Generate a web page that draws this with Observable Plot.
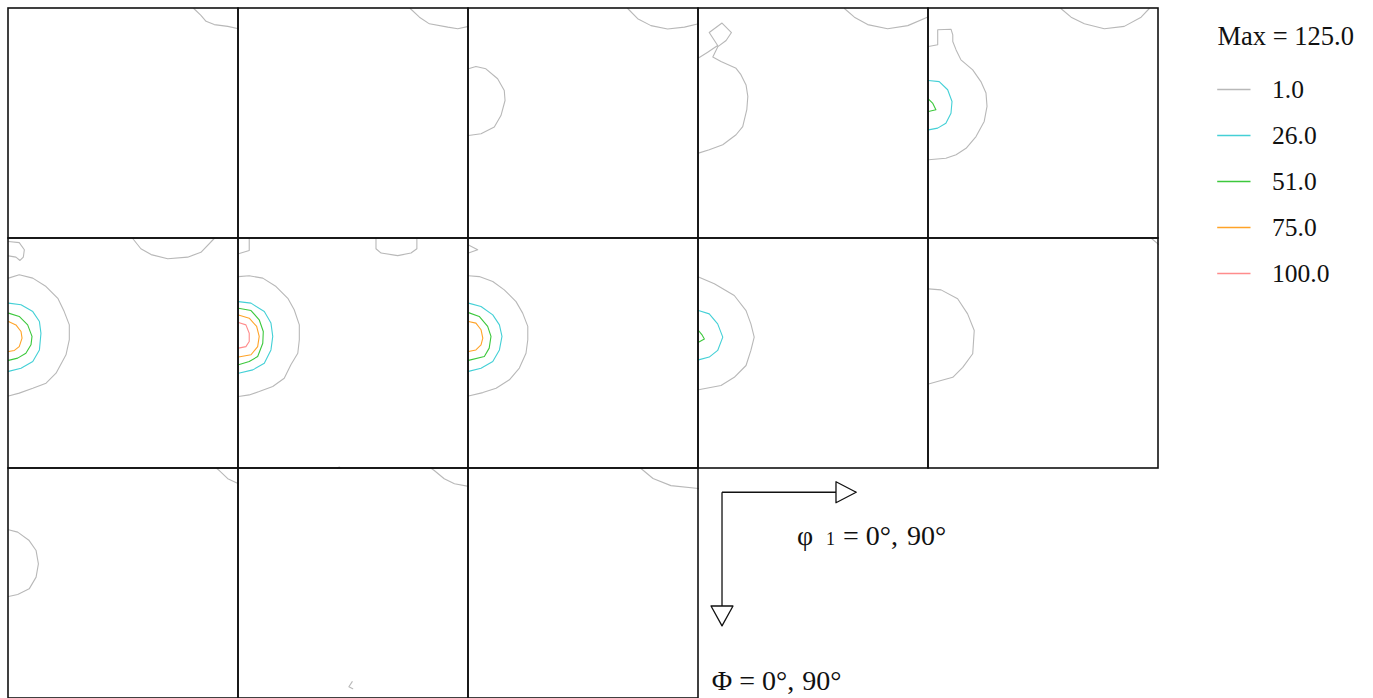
<!DOCTYPE html>
<html>
<head>
<meta charset="utf-8">
<script src="https://cdn.jsdelivr.net/npm/d3@7"></script>
<script src="https://cdn.jsdelivr.net/npm/@observablehq/plot@0.6"></script>
<style>
  body { margin: 0; background: #fff; }
  #wrap { display: flex; align-items: flex-start; }
</style>
</head>
<body>
<div id="wrap"></div>
<script>
// ---- Data (phi1, Phi in degrees within each ODF section, 0..90) ----
const levels = [1.0, 26.0, 51.0, 75.0, 100.0];
const levelLabels = ["1.0", "26.0", "51.0", "75.0", "100.0"];
const levelColors = ["#b8b8b8", "#44d0d6", "#3cc83c", "#ffa328", "#ff8c8c"];
const maxLabel = "Max = 125.0";
const angleRange = [0, 90];

const section1 = [
  {level: 1, pts: [[72.5,0],[75.3,2.7],[77.3,5],[80.5,6.3],[85.8,7],[90,7.9]]}
];
const section2 = [
  {level: 1, pts: [[67.2,0],[70.8,3.4],[74.7,6],[81.9,7.3],[85.8,7.9],[90,7]]}
];
const section3 = [
  {level: 1, pts: [[62.3,0],[66.2,4],[71.4,6.7],[77.9,8],[84.5,7.3],[90,6]]},
  {level: 1, pts: [[0,23.6],[2.9,22.7],[6.8,23.6],[11.4,27.5],[14,32.1],[14.3,36],[12.7,41.9],[10.1,46.4],[4.9,49],[0,49.7]]}
];
const section4 = [
  {level: 1, pts: [[57.1,0],[61,3.4],[66.2,6.3],[74,7.9],[81.9,6.7],[90,3.2]]},
  {level: 1, pts: [[0,19.4],[3.6,17.1],[7.5,14.5],[4.2,9.4],[9.2,5.7],[12.9,9.4],[10.8,12.5],[7.6,14.9],[5.6,19],[8.8,20.7],[14.7,23.4],[16.6,25.9],[18.6,29.9],[19.3,34.4],[18.9,39.6],[17.3,46.2],[14.7,49.4],[9.5,53.3],[4.2,55.3],[0,56.6]]}
];
const section5 = [
  {level: 1, pts: [[51.8,0],[55.8,3.4],[61,6],[68.8,7.9],[76.6,7],[83.2,3.4],[86.4,0]]},
  {level: 1, pts: [[0,14.9],[3.6,14.2],[3.6,8.3],[8.8,8.1],[9.5,10.3],[9.5,12.9],[10.8,16.2],[12.7,20.1],[17.3,24],[20.5,28.6],[22.5,33.1],[22.9,38.3],[21.8,44.2],[18.6,50.1],[14.7,54.7],[10.8,57.2],[6.8,58.6],[0,59.2]]},
  {level: 26, pts: [[0,28.2],[4.2,28.6],[7.5,31.8],[9.2,36.4],[8.8,41],[6.8,44.9],[3.6,46.8],[0,47.5]]},
  {level: 51, pts: [[0,35.5],[1.6,37],[2.9,39.6],[0,40.3]]}
];
const section6 = [
  {level: 1, pts: [[0,1.2],[4.2,1.6],[6.2,4.4],[5.8,7.3],[4.5,8.6],[2.9,7.3],[0,6.8]]},
  {level: 1, pts: [[48.6,0],[51.8,4],[55.8,6.3],[62.3,7.9],[70.1,7.3],[75.3,5.4],[80.5,0]]},
  {level: 1, pts: [[0,15.5],[4.2,14.2],[9.5,15.5],[14.7,18.8],[19.3,23.4],[21.8,28.6],[23.8,33.8],[23.8,39.6],[22.5,45.5],[18.6,52.7],[14.7,56.6],[9.5,58.6],[4.2,60.5],[0,61.6]]},
  {level: 26, pts: [[0,25.3],[4.9,25.9],[9.5,28.6],[12.1,32.5],[12.7,37.1],[12.1,43.6],[9.5,48.1],[4.9,50.8],[0,52]]},
  {level: 51, pts: [[0,29.2],[4.2,30.5],[7.5,33.8],[9.2,38.3],[8.8,41.6],[6.8,44.9],[3.6,46.8],[0,47.7]]},
  {level: 75, pts: [[0,32.5],[2.9,33.8],[4.9,36.4],[5.3,39],[4.2,42.3],[2.3,43.8],[0,44.2]]}
];
const section7 = [
  {level: 1, pts: [[4.2,0],[4.2,4.7],[0,6]]},
  {level: 1, pts: [[53.8,0],[53.8,4],[55.8,5.7],[62.3,6.7],[67.5,5.7],[69.8,4],[69.8,0]]},
  {level: 1, pts: [[0,14.9],[4.2,14.6],[9.5,15.5],[14.7,18.8],[19.3,23.4],[21.8,27.9],[23.8,33.8],[23.8,39.6],[23.2,44.9],[20.5,49.4],[17.9,54.7],[13.4,57.9],[8.1,59.9],[4.2,61.2],[0,61.8]]},
  {level: 1, pts: [[38.6,90],[39.4,89.4],[40.2,90]]},
  {level: 26, pts: [[0,24.7],[4.9,25.3],[10.1,28.6],[12.7,33.1],[13.4,38.3],[12.7,43.6],[10.1,48.8],[5.6,51.4],[0,52.7]]},
  {level: 51, pts: [[0,27.3],[4.9,28.2],[8.1,31.8],[9.7,36.4],[9.5,41],[7.5,46.2],[4.2,48.1],[0,49.4]]},
  {level: 75, pts: [[0,29.9],[4.2,31.2],[7.1,34.4],[8.1,38.3],[7.5,42.3],[4.9,45.5],[0,46.4]]},
  {level: 100, pts: [[0,32.9],[2.9,33.8],[4.2,37.1],[4.2,40.3],[2.9,42.3],[0,42.9]]}
];
const section8 = [
  {level: 1, pts: [[0,2.5],[3.6,4.4],[0,5.7]]},
  {level: 1, pts: [[0,14.6],[4.2,14.9],[9.5,16.8],[14,20.1],[18.6,24.7],[21.2,29.2],[23.2,34.4],[23.2,39.6],[22.5,44.9],[19.9,50.7],[16,55.3],[10.8,58.6],[5.6,60.3],[0,61.6]]},
  {level: 26, pts: [[0,25.3],[4.9,26.6],[9.5,29.9],[12.1,33.8],[13.1,38.3],[12.1,43.6],[9.5,48.1],[4.9,50.8],[0,52]]},
  {level: 51, pts: [[0,29],[4.2,30.5],[7.5,34.4],[8.8,38.3],[8.1,42.9],[6.2,46.2],[0,47.7]]},
  {level: 75, pts: [[0,32.5],[2.9,33.1],[4.9,35.7],[5.6,39],[4.9,41.6],[2.9,43.6],[0,44.2]]}
];
const section9 = [
  {level: 1, pts: [[0,15.1],[6.2,17.7],[14,22.3],[18.6,28.2],[20.5,33.4],[21.8,38.6],[20.5,43.8],[18.6,49.7],[14,54.3],[8.8,57.5],[0,59.2]]},
  {level: 26, pts: [[0,28.2],[4.2,29.5],[7.5,33.4],[9.5,38.6],[7.5,43.8],[4.2,46.4],[0,47.5]]},
  {level: 51, pts: [[0,36],[1.3,37.6],[2.3,39.3],[0,40.6]]}
];
const section10 = [
  {level: 1, pts: [[87.3,0],[90,2.3]]},
  {level: 1, pts: [[0,19.7],[4.9,20.1],[11.4,23.6],[15.3,29.5],[17.9,36],[17.3,45.1],[13.4,50.4],[9.5,54.3],[4.9,55.6],[0,56.9]]}
];
const section11 = [
  {level: 1, pts: [[81.5,0],[82.5,0.8],[85.8,4],[90,6]]},
  {level: 1, pts: [[0,24],[3.6,24.9],[8.1,28.2],[10.8,32.1],[11.7,37.3],[10.8,42.5],[8.1,47.1],[3.6,49.3],[0,50.1]]}
];
const section12 = [
  {level: 1, pts: [[75.5,0],[76.6,0.8],[80.5,4],[84.5,6],[90,7]]},
  {level: 1, pts: [[44.5,83.4],[43.2,85.4],[44.7,86.2]]}
];
const section13 = [
  {level: 1, pts: [[67.5,0],[72.2,3.9],[79.2,6.7],[90,7.8]]}
];

// Axis-direction annotation (drawn in the cell after the last section)
const axisArrows = [
  {x1: 9.2, y1: 9.3, x2: 61.7, y2: 9.3},
  {x1: 9.2, y1: 9.3, x2: 9.2, y2: 61.6}
];
const arrowHeads = [
  [[53.8,5.2],[61.7,9.3],[53.8,13.4],[53.8,5.2]],
  [[4.9,53.8],[9.2,61.6],[13.5,53.8],[4.9,53.8]]
];
const axisLabels = [
  {text: "φ 1 = 0°, 90°", x: 38.5, y: 30},
  {text: "Φ = 0°, 90°", x: 5.2, y: 86.7}
];

// ---- Build tables ----
const sections = [section1, section2, section3, section4, section5, section6, section7,
  section8, section9, section10, section11, section12, section13];
const ncols = 5;
const cellOf = (i) => ({col: i % ncols, row: Math.floor(i / ncols)});

const rows = [];
sections.forEach((sec, i) => {
  const {col, row} = cellOf(i);
  sec.forEach((c, j) => {
    c.pts.forEach(([x, y]) => rows.push({id: `${i}-${j}`, col, row, level: c.level, x, y}));
  });
});
const panelTable = sections.map((_, i) => ({...cellOf(i), x1: angleRange[0], x2: angleRange[1]}));
const anno = cellOf(sections.length);
const arrowTable = axisArrows.map(d => ({...d, ...anno}));
const headTable = [];
arrowHeads.forEach((h, k) => h.forEach(([x, y]) => headTable.push({k, x, y, ...anno})));
const labelTable = axisLabels.map(d => ({...d, ...anno}));

const serif = "'Liberation Serif', 'Times New Roman', serif";
const colorOf = (v) => levelColors[levels.indexOf(v)];

const chart = Plot.plot({
  width: 1160, height: 700,
  marginLeft: 7.5, marginTop: 8, marginRight: 2.5, marginBottom: 2,
  style: {background: "#fff", fontFamily: serif},
  x: {domain: angleRange, axis: null},
  y: {domain: angleRange, reverse: true, axis: null},
  fx: {domain: d3.range(ncols), padding: 0, axis: null},
  fy: {domain: d3.range(3), padding: 0, axis: null},
  color: {type: "ordinal", domain: levels, range: levelColors},
  marks: [
    Plot.line(rows, {x: "x", y: "y", z: "id", stroke: "level", fx: "col", fy: "row", strokeWidth: 1.1}),
    Plot.rect(panelTable, {x1: "x1", x2: "x2", y1: () => angleRange[0], y2: () => angleRange[1],
      fx: "col", fy: "row", fill: "none", stroke: "#111", strokeWidth: 1.6}),
    Plot.link(arrowTable, {x1: "x1", y1: "y1", x2: "x2", y2: "y2", fx: "col", fy: "row", stroke: "#111", strokeWidth: 1.3}),
    Plot.line(headTable, {x: "x", y: "y", z: "k", fx: "col", fy: "row", fill: "white", stroke: "#111", strokeWidth: 1.3}),
    Plot.text(labelTable, {x: "x", y: "y", text: "text", fx: "col", fy: "row", textAnchor: "start",
      lineAnchor: "bottom", fontSize: 28, fontFamily: serif, fill: "#111"})
  ]
});

// spacing of the annotation labels (smaller "1" in φ1)
d3.select(chart).selectAll("text").each(function() {
  const t = this.textContent;
  const sel = d3.select(this);
  if (t.startsWith("φ")) {
    sel.text(null);
    sel.append("tspan").text("φ");
    sel.append("tspan").attr("font-size", 18).attr("dx", 13).text("1");
    sel.append("tspan").attr("dx", 8).text("= 0°,");
    sel.append("tspan").attr("dx", 9).text("90°");
  } else if (t.startsWith("Φ")) {
    sel.text(null);
    sel.append("tspan").text("Φ = 0°,");
    sel.append("tspan").attr("dx", 8).text("90°");
  }
});

// ---- Legend ----
const legendRows = levels.map((v, i) => ({level: v, label: levelLabels[i], color: colorOf(v)}));
const legend = Plot.plot({
  width: 213, height: 300, margin: 0,
  style: {background: "#fff", fontFamily: serif},
  x: {type: "identity", axis: null},
  y: {type: "point", domain: levelLabels, range: [89.3, 273.3], padding: 0, axis: null},
  color: {type: "identity"},
  marks: [
    Plot.text([maxLabel], {frameAnchor: "top-left", dx: 57, dy: 44, lineAnchor: "bottom",
      text: d => d, fontSize: 26.5, fontFamily: serif, fill: "#111"}),
    Plot.link(legendRows, {x1: () => 56.7, x2: () => 90, y1: "label", y2: "label", stroke: "color", strokeWidth: 1.3}),
    Plot.text(legendRows, {x: () => 111.5, y: "label", text: "label", textAnchor: "start",
      fontSize: 25.5, fontFamily: serif, fill: "#111"})
  ]
});

const wrap = document.getElementById("wrap");
wrap.appendChild(chart);
wrap.appendChild(legend);
</script>
</body>
</html>
